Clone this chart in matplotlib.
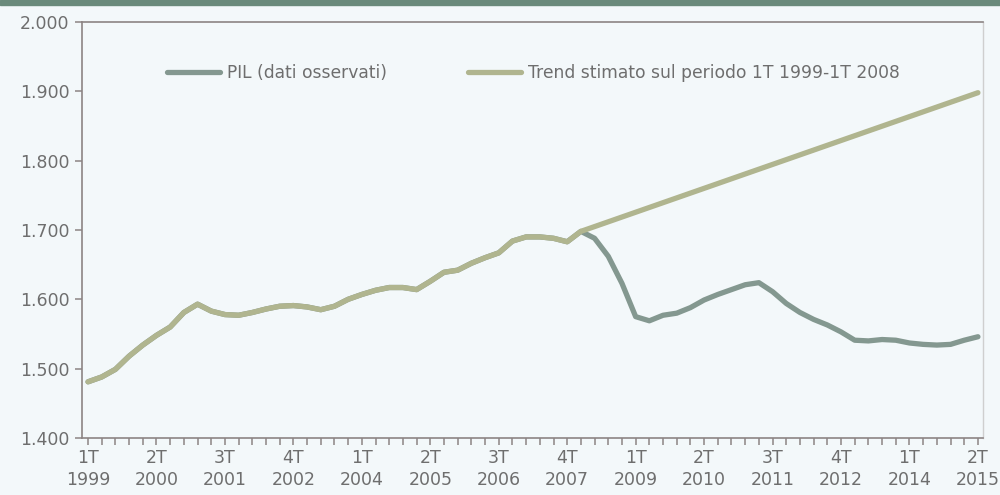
"""
PIL trimestrale osservato e trend stimato sul periodo 1T 1999-1T 2008.
"""
import numpy as np
import matplotlib.pyplot as plt
from matplotlib.patches import Rectangle
from matplotlib.ticker import FuncFormatter, MultipleLocator

# Quarterly GDP, 1T 1999 .. 2T 2015 (66 quarters)
pil = [1.481, 1.488, 1.499, 1.518, 1.534, 1.548, 1.560, 1.581, 1.593, 1.583,
       1.578, 1.577, 1.581, 1.586, 1.590, 1.591, 1.589, 1.585, 1.590, 1.600,
       1.607, 1.613, 1.617, 1.617, 1.614, 1.626, 1.639, 1.642, 1.652, 1.660,
       1.667, 1.684, 1.690, 1.690, 1.688, 1.683, 1.698, 1.688, 1.662, 1.623,
       1.575, 1.569, 1.577, 1.580, 1.588, 1.599, 1.607, 1.614, 1.621, 1.624,
       1.611, 1.594, 1.581, 1.571, 1.563, 1.553, 1.541, 1.540, 1.542, 1.541,
       1.537, 1.535, 1.534, 1.535, 1.541, 1.546]

# Trend: follows the data up to 1T 2008, then straight line to 2T 2015
trend_end_q = 65
trend_end_val = 1.898
trend_start_q = 36

tick_labels = ['1T\n1999', '2T\n2000', '3T\n2001', '4T\n2002', '1T\n2004',
               '2T\n2005', '3T\n2006', '4T\n2007', '1T\n2009', '2T\n2010',
               '3T\n2011', '4T\n2012', '1T\n2014', '2T\n2015']

bg = '#f3f8fa'
c_pil = '#849890'
c_trend = '#b0b58f'
c_text = '#6e6e6e'
c_axis = '#8c8484'

q = np.arange(len(pil))
trend_q = list(q[:trend_start_q + 1]) + [trend_end_q]
trend = pil[:trend_start_q + 1] + [trend_end_val]

plt.rcParams.update({'font.family': 'DejaVu Sans', 'font.size': 12})

fig = plt.figure(figsize=(10, 4.95), dpi=100, facecolor=bg)
ax = fig.add_axes([0.082, 0.1152, 0.901, 0.8404], facecolor=bg)
fig.patches.append(Rectangle((0, 0.99), 1, 0.01, transform=fig.transFigure,
                             color='#6a8a7b', zorder=0))

ax.plot(q, pil, color=c_pil, lw=3.8, solid_capstyle='round',
        label='PIL (dati osservati)', zorder=2)
ax.plot(trend_q, trend, color=c_trend, lw=3.8, solid_capstyle='round',
        label='Trend stimato sul periodo 1T 1999-1T 2008', zorder=3)

ax.set_xlim(-0.44, 65.37)
ax.set_ylim(1.4, 2.0)
ax.set_xticks(np.arange(0, 66, 5))
ax.set_xticklabels(tick_labels)
ax.xaxis.set_minor_locator(MultipleLocator(1))
ax.yaxis.set_major_locator(MultipleLocator(0.1))
ax.yaxis.set_major_formatter(FuncFormatter(lambda v, p: f'{v:.3f}'))

for s in ['left', 'bottom', 'top']:
    ax.spines[s].set_color(c_axis)
    ax.spines[s].set_linewidth(1.2)
ax.spines['right'].set_color('#cfcfcf')
ax.spines['right'].set_linewidth(1.0)

ax.tick_params(axis='both', which='both', colors=c_axis, labelcolor=c_text,
               direction='out', length=5, width=1.1, labelsize=12.5)
ax.tick_params(axis='x', which='major', pad=3)
ax.tick_params(axis='y', pad=4)
for t in ax.get_xticklabels():
    t.set_linespacing(1.3)

leg = ax.legend(loc='center left', bbox_to_anchor=(0.077, 0.877), ncol=2,
                frameon=False, fontsize=12.3, handlelength=3.1,
                handletextpad=0.45, columnspacing=4.7, labelcolor=c_text)

plt.savefig('out.png', dpi=100, facecolor=bg)
